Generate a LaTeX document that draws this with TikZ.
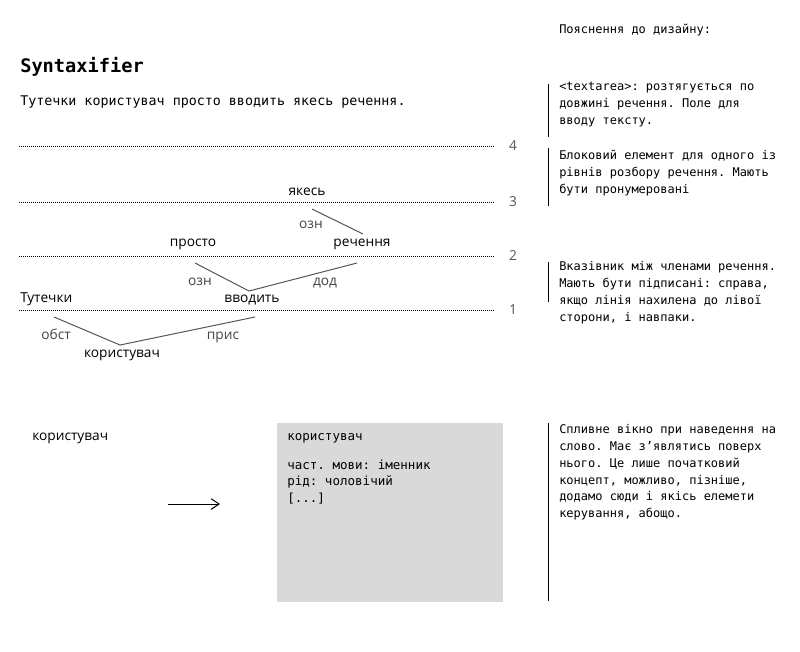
\documentclass[tikz,border=0pt]{standalone}
\usepackage{fontspec}
\usetikzlibrary{arrows.meta}
\newfontfamily\monof{DejaVu Sans Mono}
\newfontfamily\lblf{Open Sans}
\definecolor{relgray}{HTML}{444444}
\definecolor{numgray}{HTML}{555555}
\definecolor{linegray}{HTML}{555555}
\definecolor{boxgray}{HTML}{D9D9D9}
\frenchspacing
\begin{document}
\begin{tikzpicture}[x=0.75pt,y=-0.75pt,
  title/.style={font=\monof\bfseries\fontsize{14}{16}\selectfont, anchor=base west, inner sep=0pt},
  sent/.style={font=\monof\fontsize{10}{12}\selectfont, anchor=base west, inner sep=0pt},
  note/.style={font=\monof\fontsize{9}{11}\selectfont, anchor=base west, inner sep=0pt},
  boxt/.style={font=\monof\fontsize{9.4}{11}\selectfont, anchor=base west, inner sep=0pt},
  word/.style={font=\lblf\fontsize{10.3}{12}\selectfont, anchor=base, inner sep=0pt},
  rel/.style={word, text=relgray},
  num/.style={word, text=numgray},
  level/.style={line width=0.75pt, dash pattern=on 0.75pt off 0.75pt},
  link/.style={draw=linegray, line width=0.75pt},
  bar/.style={line width=0.75pt}]
\useasboundingbox (0,0) rectangle (800,651);

% title and input
\node[title] (title) at (20,72) {Syntaxifier};
\node[sent] (sentence) at (20,105) {Тутечки користувач просто вводить якесь речення.};

% levels
\foreach \yy/\nn in {146/4,202/3,256/2,310/1}{
  \coordinate (L\nn a) at (19,\yy);
  \coordinate (L\nn b) at (495,\yy);
  \draw[level] (L\nn a) -- (L\nn b);
  \node[num] (num\nn) at (513,\yy+4) {\nn};
}

% words
\node[word] (w_yakes) at (307,195) {якесь};
\node[word] (w_prosto) at (193,246) {просто};
\node[word] (w_rechennya) at (362,246) {речення};
\node[word, anchor=base west] (w_tutechky) at (20,302) {Тутечки};
\node[word] (w_vvodyt) at (252,302) {вводить};
\node[word] (w_korystuvach) at (122,357) {користувач};

% relation labels
\node[rel] (r1) at (311,228) {озн};
\node[rel] (r2) at (200,285) {озн};
\node[rel] (r3) at (325,285) {дод};
\node[rel] (r4) at (56,339) {обст};
\node[rel] (r5) at (223,339) {прис};

% links
\coordinate (a1) at (312,209); \coordinate (a2) at (363,234);
\draw[link] (a1) -- (a2);
\coordinate (b1) at (195,263); \coordinate (b2) at (249,291); \coordinate (b3) at (357,263);
\draw[link] (b1) -- (b2) -- (b3);
\coordinate (c1) at (54,317); \coordinate (c2) at (120,345); \coordinate (c3) at (255,317);
\draw[link] (c1) -- (c2) -- (c3);

% popup demo
\node[word, anchor=base west] (hover) at (32,440) {користувач};
\coordinate (arrS) at (168,504); \coordinate (arrE) at (220,504);
\draw[line width=0.75pt, -{Straight Barb[length=6pt,width=8pt]}] (arrS) -- (arrE);
\fill[boxgray] (277,423) rectangle (503,602);
\node[boxt] (p1) at (287,440) {користувач};
\node[boxt] (p2) at (287,469) {част. мови: іменник};
\node[boxt] (p3) at (287,485) {рід: чоловічий};
\node[boxt] (p4) at (287,502) {[...]};

% notes
\node[note] (n0) at (559,33) {Пояснення до дизайну:};
\draw[bar] (548,84) -- (548,137);
\node[note] (n1a) at (559,90) {<textarea>: розтягується по};
\node[note] (n1b) at (559,107) {довжині речення. Поле для};
\node[note] (n1c) at (559,124) {вводу тексту.};
\draw[bar] (548,148) -- (548,206);
\node[note] (n2a) at (559,159) {Блоковий елемент для одного із};
\node[note] (n2b) at (559,176) {рівнів розбору речення. Мають};
\node[note] (n2c) at (559,193) {бути пронумеровані};
\draw[bar] (548,262) -- (548,302);
\node[note] (n3a) at (559,270) {Вказівник між членами речення.};
\node[note] (n3b) at (559,287) {Мають бути підписані: справа,};
\node[note] (n3c) at (559,304) {якщо лінія нахилена до лівої};
\node[note] (n3d) at (559,321) {сторони, і навпаки.};
\draw[bar] (548,423) -- (548,601);
\node[note] (n4a) at (559,433) {Спливне вікно при наведення на};
\node[note] (n4b) at (559,450) {слово. Має з’являтись поверх};
\node[note] (n4c) at (559,467) {нього. Це лише початковий};
\node[note] (n4d) at (559,484) {концепт, можливо, пізніше,};
\node[note] (n4e) at (559,500) {додамо сюди і якісь елемети};
\node[note] (n4f) at (559,517) {керування, абощо.};
\end{tikzpicture}
\end{document}
